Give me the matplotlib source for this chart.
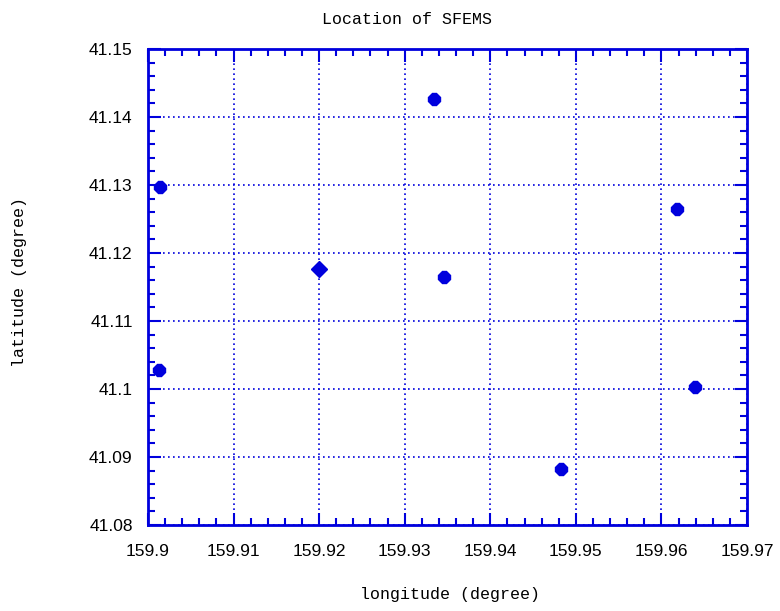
import matplotlib
matplotlib.use("Agg")
import matplotlib.pyplot as plt
from matplotlib.ticker import AutoMinorLocator

lon = [159.9014, 159.9013, 159.9334, 159.9346, 159.9483, 159.9618, 159.9639]
lat = [41.1297, 41.1028, 41.1426, 41.1165, 41.0882, 41.1265, 41.1003]
lon_d = [159.9200]
lat_d = [41.1176]
xticks = [159.90, 159.91, 159.92, 159.93, 159.94, 159.95, 159.96, 159.97]
xlabels = ["159.9", "159.91", "159.92", "159.93", "159.94", "159.95", "159.96", "159.97"]
yticks = [41.08, 41.09, 41.10, 41.11, 41.12, 41.13, 41.14, 41.15]
ylabels = ["41.08", "41.09", "41.1", "41.11", "41.12", "41.13", "41.14", "41.15"]

blue = "#0000dd"
mono = "Liberation Mono"
sans = "Liberation Sans"

fig = plt.figure(figsize=(7.8, 6.11), dpi=100)
ax = fig.add_axes([148/780, 1-525/611, (747-148)/780, (525-49)/611])

ax.plot(lon, lat, linestyle="none", marker="8", markersize=9, color=blue, markeredgecolor=blue)
ax.plot(lon_d, lat_d, linestyle="none", marker="D", markersize=8, color=blue, markeredgecolor=blue)

ax.set_xlim(159.9, 159.97)
ax.set_ylim(41.08, 41.15)
ax.set_xticks(xticks)
ax.set_xticklabels(xlabels, fontname=sans, fontsize=12.5)
ax.set_yticks(yticks)
ax.set_yticklabels(ylabels, fontname=sans, fontsize=12.5)
ax.xaxis.set_minor_locator(AutoMinorLocator(5))
ax.yaxis.set_minor_locator(AutoMinorLocator(5))
ax.tick_params(which="both", direction="in", top=True, right=True, color=blue, width=1.5)
ax.tick_params(which="major", length=9)
ax.tick_params(axis="x", which="major", pad=14)
ax.tick_params(axis="y", which="major", pad=11)
ax.tick_params(which="minor", length=5)
for s in ax.spines.values():
    s.set_color(blue)
    s.set_linewidth(2)
ax.grid(True, which="major", color=blue, linestyle=(0, (1, 2)), linewidth=1.2)

fig.text(407/780, 1-20/611, "Location of SFEMS", fontname=mono, fontsize=12, ha="center", va="center")
fig.text(450/780, 1-595/611, "longitude (degree)", fontname=mono, fontsize=12, ha="center", va="center")
fig.text(20/780, 1-282/611, "latitude (degree)", fontname=mono, fontsize=12, ha="center", va="center", rotation=90)

fig.savefig("out.png", dpi=100)
